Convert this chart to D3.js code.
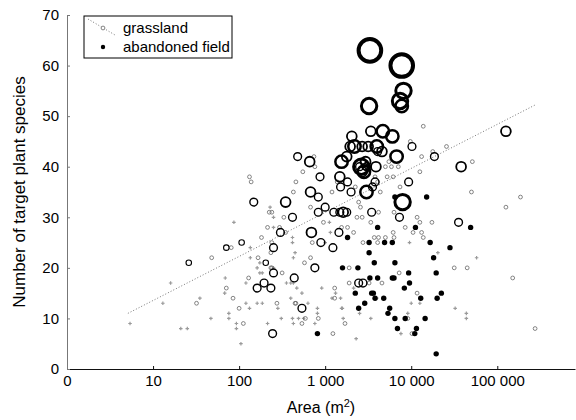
<!DOCTYPE html>
<html>
<head>
<meta charset="utf-8">
<script src="https://cdn.jsdelivr.net/npm/d3@7"></script>
<style>
  body { margin: 0; background: #fff; }
  svg { display: block; font-family: "Liberation Sans", Arial, sans-serif; }
</style>
</head>
<body>
<div id="chart"></div>
<script>
// grassland sites: [area m2, target species, size class 0-7]
var grassland = [
  [5.4,9,0],[13,13,0],[32,13,1],[21,8,0],[25,8,0],[47,10,0],[76,11,0],[76,10,0],[93,9,0],[112,9,1],
  [93,8,0],[105,5,0],[120,13,0],[132,12,0],[100,12,1],[162,13,0],[186,13,0],[214,9,0],[275,13,1],[282,12,0],
  [245,7,3],[309,10,0],[427,9,0],[490,10,0],[447,13,1],[537,12,3],[537,9,1],[562,10,0],[589,10,1],[759,9,0],
  [832,10,1],[813,12,0],[631,13,0],[1230,7,1],[1620,10,0],[1585,12,0],[1700,9,1],[2290,6,0],[3390,10,0],[7590,7,0],
  [9120,10,1],[10200,7,1],[10000,13,0],[12600,13,0],[32400,12,0],[43700,10,0],[43700,11,0],[275000,8,1],
  [16,17,0],[35,14,0],[69,18,0],[71,16,1],[68,15,0],[85,14,1],
  [240,20,1],[759,20,3],[1900,20,1],[316,19,1],[251,19,3],[129,18,1],[195,17,3],[162,16,3],[234,16,3],[437,18,3],
  [1290,16,1],[2450,17,3],[2750,17,3],[1900,17,1],[4570,17,1],[3240,17,1],[7240,19,1],[1290,14,1],
  [186,19,0],[398,17,0],[120,17,0],
  [427,17,0],[537,15,0],[398,14,0],[457,13,1],[912,16,0],[1320,15,0],[1200,14,0],[1510,14,0],[1550,12,0],[2510,11,0],
  [2140,16,0],[3980,14,0],[11700,15,1],[9120,11,0],[417,10,0],[813,11,0],
  [87,29,0],[331,30,1],[417,30,3],[251,30,0],[214,28,1],[295,28,1],[302,27,3],[347,27,1],[182,26,1],[107,25,2],
  [71,24,2],[81,24,1],[26,21,2],[48,22,1],[251,24,3],[234,23,1],[240,25,1],[135,22,0],[166,22,1],[204,21,2],
  [174,21,0],[234,20,1],[162,20,0],[174,19,0],[355,17,0],[468,16,0],[417,26,0],[417,25,0],[427,22,0],[135,24,0],
  [676,22,1],[575,21,1],[251,28,0],[1120,29,0],[1150,27,0],[1000,25,0],[447,23,0],[251,20,0],
  [955,29,1],[692,27,4],[1445,27,3],[1820,28,1],[1550,28,1],[2140,27,1],[6170,27,1],[8510,28,1],[11700,30,1],[3390,29,1],
  [2340,30,1],[2690,30,1],[2750,25,1],[4170,26,1],[4070,25,1],[5010,26,1],[6310,26,1],[3720,26,1],[708,25,1],[891,25,3],
  [1230,24,3],[1000,32,3],[832,31,3],[1260,31,3],[1480,31,3],[1620,31,4],[1780,31,3],[676,32,1],[2570,32,1],[3470,31,3],
  [4170,31,1],[2450,33,1],[7300,30,3],[6310,31,1],[148,33,3],[347,33,4],[224,31,1],[240,31,1],[229,32,0],
  [132,38,1],[138,37,1],[457,37,1],[427,35,1],
  [676,35,4],[832,34,3],[1200,35,1],[2000,35,3],[3020,35,5],[3550,36,3],[4070,37,1],[3800,37,3],[4370,35,1],[5250,38,1],
  [7410,36,1],[9330,37,3],[7940,33,6],[871,38,3],[1480,38,4],[1380,37,1],[1510,36,3],[1820,37,3],[2240,36,1],
  [479,42,3],[661,41,4],[741,42,1],[759,40,1],[550,39,1],
  [1780,42,4],[1550,41,5],[6760,42,5],
  [2630,40,6],[2820,39,5],[2950,41,4],[2690,39,4],[2510,40,3],[3020,40,3],[2880,40,2],[2750,41,2],
  [3890,40,4],[3800,38,1],[5010,40,1],[5890,40,1],[6170,38,1],[7080,40,1],[5500,41,1],
  [1950,44,4],[2190,44,5],[2690,44,4],[3160,44,4],[3980,44,5],[4070,43,3],[4570,43,4],
  [2040,46,4],[3390,47,4],[4680,47,5],[6030,46,5],
  [9770,45,1],[10200,44,3],[13200,42,1],[17800,43,1],[18600,42,3],[25700,44,1],[13800,48,1],
  [38000,40,4],[51300,41,1],[12600,39,1],[50100,35,1],[126000,32,1],[186000,34,1],[126000,47,4],
  [12600,29,1],[17400,29,1],[35500,29,3],[10500,27,1],[13200,27,1],[13800,26,1],
  [31600,20,1],[44700,20,1],[151000,18,1],[20400,23,0],[57500,22,0],[9550,25,0],
  [3310,63,7],[7760,60,7],[8130,55,6],[7410,53,6],[7760,52,5],[3240,52,6]
];

// abandoned fields: [area m2, target species]
var abandoned = [
  [2240,15],[3470,15],[3630,15],[3800,14],[4790,14],[8320,16],[9550,17],[12900,14],[20000,14],[22400,15],
  [2880,13],[2450,12],[5620,12],[5370,11],[6460,10],[8510,10],[14500,10],[6920,8],[11500,8],[11000,7],
  [813,7],[19500,3],
  [1590,20],[2400,20],[3310,18],[4070,18],[6030,18],[6310,18],[9330,19],[19500,19],
  [1820,26],[3240,25],[4070,28],[4900,25],[6030,25],[3240,23],[3720,21],[6460,21],[6460,34],[15100,34],
  [11200,28],[49000,28],[16600,25],[28200,24],[18200,22]
];

// grassland regression line (end points)
var trendArea = [5.1, 282000];
var trendSpecies = [11, 52.3];

var xTicks = [1, 10, 100, 1000, 10000, 100000];
var xTickLabels = ["0", "10", "100", "1 000", "10 000", "100 000"];
var yTicks = [0, 10, 20, 30, 40, 50, 60, 70];
var legendLabels = ["grassland", "abandoned field"];

var margin = {top: 15, right: 1, bottom: 51, left: 67},
    width = 576 - margin.left - margin.right,
    height = 420 - margin.top - margin.bottom;

var svg = d3.select("#chart").append("svg")
    .attr("width", 576)
    .attr("height", 420);

var g = svg.append("g")
    .attr("transform", "translate(" + margin.left + "," + margin.top + ")");

var x = d3.scaleLog().domain([1, 800000]).range([0, width]);
var y = d3.scaleLinear().domain([0, 70]).range([height, 0]);

// circle size classes
var rad = d3.scaleOrdinal().domain(d3.range(8)).range([1.2, 1.9, 2.75, 3.9, 4.9, 6.2, 7.7, 11.3]);
var sw = d3.scaleOrdinal().domain(d3.range(8)).range([0.8, 0.8, 1.1, 1.4, 1.8, 2.5, 3, 4]);

// axes
var xAxis = g.append("g")
    .attr("transform", "translate(0," + height + ")")
    .call(d3.axisBottom(x).tickValues(xTicks)
      .tickFormat(function(d, i) { return xTickLabels[i]; })
      .tickSizeInner(-3).tickSizeOuter(0).tickPadding(6));

var yAxis = g.append("g")
    .call(d3.axisLeft(y).tickValues(yTicks)
      .tickSizeInner(-3).tickSizeOuter(0).tickPadding(8));

[xAxis, yAxis].forEach(function(a) {
  a.selectAll("text").attr("font-size", 15).attr("font-family", "Liberation Sans, Arial, sans-serif").attr("fill", "#000");
});
xAxis.select(".domain").attr("stroke", "#111");
xAxis.selectAll(".tick line").attr("stroke", "#111");
yAxis.select(".domain").attr("stroke", "#777");
yAxis.selectAll(".tick line").attr("stroke", "#777");

// trend line
g.append("line")
    .attr("x1", x(trendArea[0])).attr("y1", y(trendSpecies[0]))
    .attr("x2", x(trendArea[1])).attr("y2", y(trendSpecies[1]))
    .attr("stroke", "#777")
    .attr("stroke-width", 1)
    .attr("stroke-dasharray", "1,2");

// tiny grassland sites as crosses
g.selectAll(".cross")
    .data(grassland.filter(function(d) { return d[2] == 0; }))
  .enter().append("path")
    .attr("class", "cross")
    .attr("d", d3.symbol().type(d3.symbolCross).size(7))
    .attr("transform", function(d) { return "translate(" + x(d[0]) + "," + y(d[1]) + ")"; })
    .attr("fill", "#9a9a9a");

// grassland circles, smallest drawn first
g.selectAll(".grass")
    .data(grassland.filter(function(d) { return d[2] > 0; }).sort(function(a, b) { return a[2] - b[2]; }))
  .enter().append("circle")
    .attr("class", "grass")
    .attr("cx", function(d) { return x(d[0]); })
    .attr("cy", function(d) { return y(d[1]); })
    .attr("r", function(d) { return rad(d[2]); })
    .attr("fill", "none")
    .attr("stroke", function(d) { return d[2] == 1 ? "#666" : "#000"; })
    .attr("stroke-width", function(d) { return sw(d[2]); });

// abandoned fields
g.selectAll(".field")
    .data(abandoned)
  .enter().append("circle")
    .attr("class", "field")
    .attr("cx", function(d) { return x(d[0]); })
    .attr("cy", function(d) { return y(d[1]); })
    .attr("r", 2.7)
    .attr("fill", "#000");

// axis titles
svg.append("text")
    .attr("x", margin.left + width / 2)
    .attr("y", 413)
    .attr("text-anchor", "middle")
    .attr("font-size", 16)
    .html("Area (m<tspan dy='-6' font-size='11'>2</tspan><tspan dy='6'>)</tspan>");

svg.append("text")
    .attr("transform", "translate(25," + (margin.top + height / 2) + ") rotate(-90)")
    .attr("text-anchor", "middle")
    .attr("font-size", 17)
    .text("Number of target plant species");

// legend
var lg = svg.append("g").attr("transform", "translate(84,16)");
lg.append("rect")
    .attr("width", 148).attr("height", 42)
    .attr("fill", "#fff").attr("stroke", "#000").attr("stroke-width", 1);
lg.append("line")
    .attr("x1", 4).attr("y1", 3).attr("x2", 31).attr("y2", 19)
    .attr("stroke", "#777").attr("stroke-dasharray", "1,2");
lg.append("circle")
    .attr("cx", 19).attr("cy", 12).attr("r", rad(1))
    .attr("fill", "#fff").attr("stroke", "#666").attr("stroke-width", 0.8);
lg.append("circle")
    .attr("cx", 19).attr("cy", 31).attr("r", 2.2).attr("fill", "#000");
lg.selectAll(".lt")
    .data(legendLabels)
  .enter().append("text")
    .attr("class", "lt")
    .attr("x", 39)
    .attr("y", function(d, i) { return 17 + i * 19; })
    .attr("font-size", 15)
    .text(function(d) { return d; });
</script>
</body>
</html>
